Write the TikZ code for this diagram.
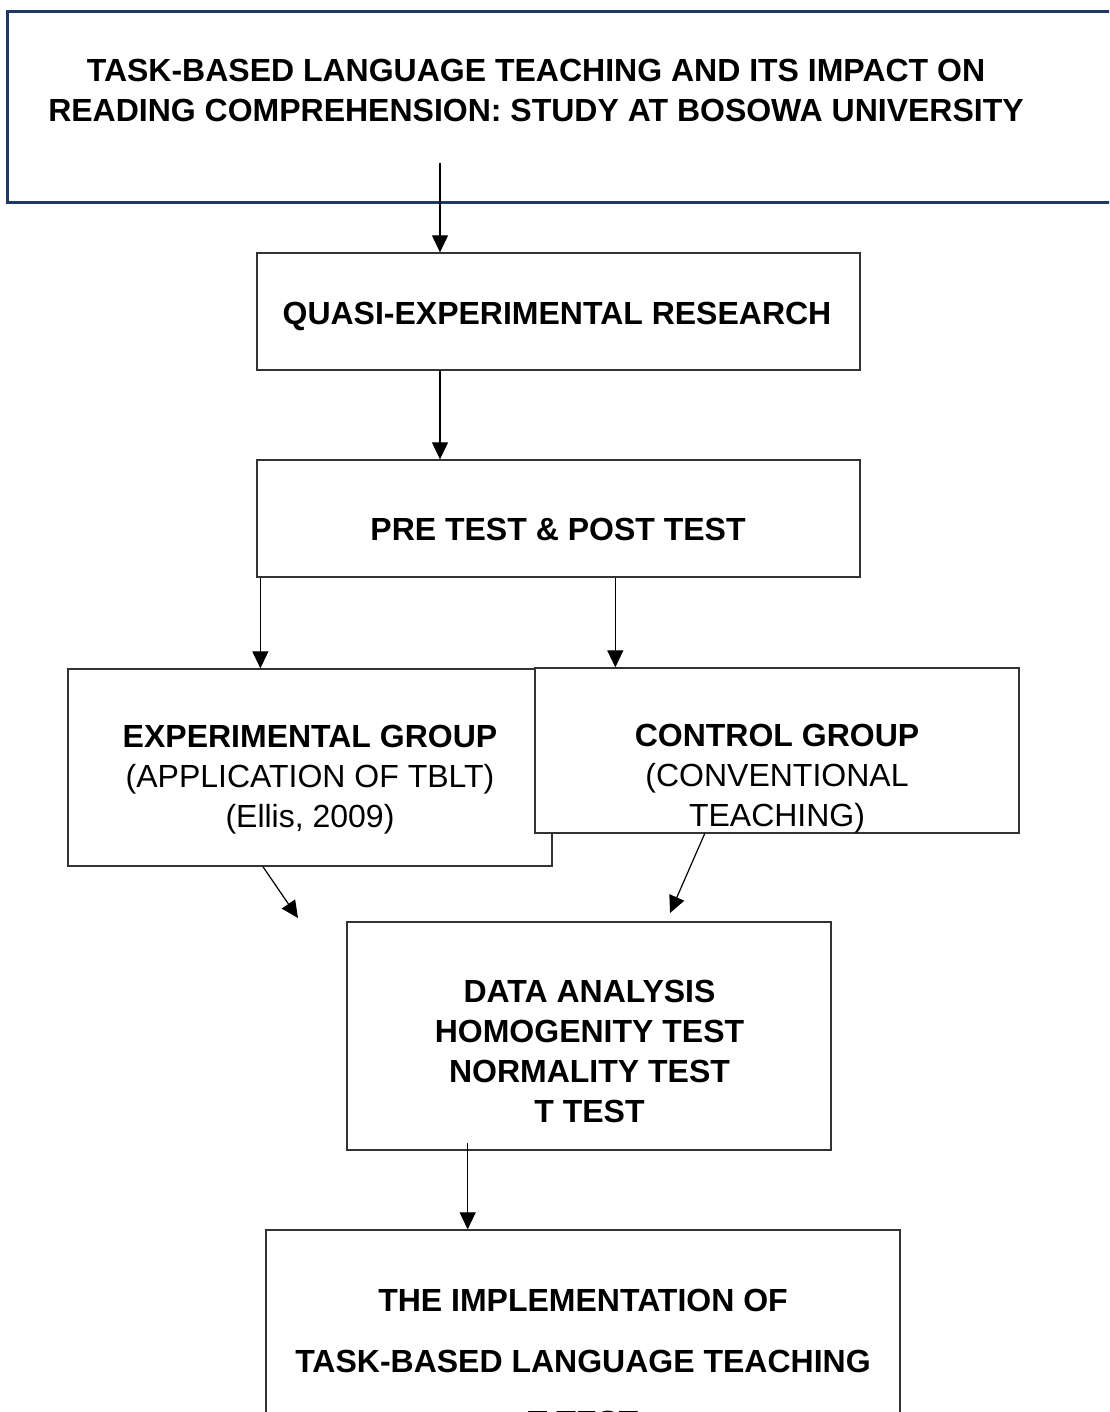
\documentclass[tikz,border=0pt]{standalone}
\usepackage{fontspec}
\setmainfont{Liberation Sans}
\usetikzlibrary{calc,arrows.meta}
\definecolor{navy}{RGB}{31,56,100}

\begin{document}
\begin{tikzpicture}[x=1pt,y=-1pt]
\tikzstyle{box}=[draw=black!80,line width=1.3pt,fill=white,inner sep=0pt]
\tikzstyle{txt}=[align=center,inner sep=0pt,font=\fontsize{32}{40}\selectfont]
\tikzstyle{arr}=[line width=1.2pt,-{Triangle[length=17pt,width=16pt]}]

\useasboundingbox (0,0) rectangle (1109,1412);
\clip (0,0) rectangle (1109,1412);

\node (title) [draw=navy,line width=3pt,minimum width=1120pt,minimum height=191pt] at (567,107.5) {};
\node (titleTxt) [txt] at (536,90)
   {\textbf{TASK-BASED LANGUAGE TEACHING AND ITS IMPACT ON}\\
    \textbf{READING COMPREHENSION: STUDY AT BOSOWA UNIVERSITY}};

\node (quasi) [box,minimum width=603pt,minimum height=117pt] at (558.5,311.5) {};
\node (quasiTxt) [txt] at (557,316) {\textbf{QUASI-EXPERIMENTAL RESEARCH}};

\node (pre) [box,minimum width=603pt,minimum height=117pt] at (558.5,518.5) {};
\node (preTxt) [txt] at (558,529) {\textbf{PRE TEST \& POST TEST}};

\node (exp) [box,minimum width=484pt,minimum height=197pt] at (310,767.5) {};
\node (expTxt) [txt] at (310,780)
   {\textbf{EXPERIMENTAL GROUP}\\(APPLICATION OF TBLT)\\(Ellis, 2009)};

\node (ctl) [box,minimum width=484pt,minimum height=165pt] at (777,750.5) {};
\node (ctlTxt) [txt] at (777,779)
   {\textbf{CONTROL GROUP}\\(CONVENTIONAL\\TEACHING)};

\node (data) [box,minimum width=484pt,minimum height=228pt] at (589,1036) {};
\node (dataTxt) [txt] at (589.5,1051)
   {\textbf{DATA ANALYSIS}\\\textbf{HOMOGENITY TEST}\\\textbf{NORMALITY TEST}\\\textbf{T TEST}};

\node (final) [box,minimum width=634pt,minimum height=300pt] at (583,1380) {};
\node (finalTxt) [txt,font=\fontsize{32}{61}\selectfont] at (583,1361)
   {\textbf{THE IMPLEMENTATION OF}\\\textbf{TASK-BASED LANGUAGE TEACHING}\\\textbf{T TEST}};

% arrows
\coordinate (t0) at (440,163);
\draw [arr] (t0) -- (quasi.north -| t0);
\draw [arr] (quasi.south -| t0) -- (pre.north -| t0);

\coordinate (pl) at ($(pre.south west)+(4,0)$);
\coordinate (pr) at ($(pre.south west)!0.594!(pre.south east)$);
\draw [arr] (pl) -- (pl |- exp.north);
\draw [arr] (pr) -- (pr |- ctl.north);

\coordinate (e0) at ($(exp.south west)!0.403!(exp.south east)$);
\coordinate (e1) at (298,918);
\draw [arr] (e0) -- (e1);
\coordinate (c0) at ($(ctl.south west)!0.351!(ctl.south east)$);
\coordinate (c1) at (670,913);
\draw [arr] (c0) -- (c1);

\coordinate (d0) at ($(data.south west)!0.25!(data.south east)+(0,-8)$);
\draw [arr] (d0) -- (d0 |- final.north);

\end{tikzpicture}
\end{document}
